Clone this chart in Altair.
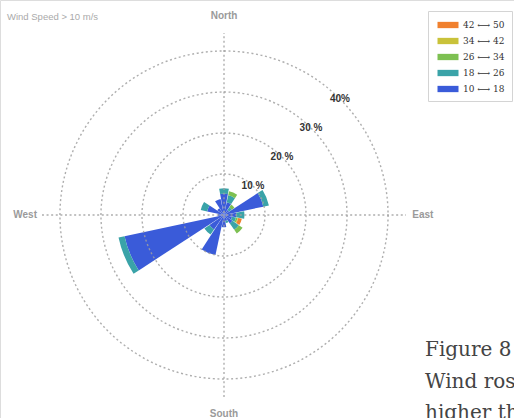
import math
import altair as alt
import pandas as pd

# ---- data ----
directions = ["N", "NNE", "NE", "ENE", "E", "ESE", "SE", "SSE",
              "S", "SSW", "SW", "WSW", "W", "WNW", "NW", "NNW"]
bins = ["10 ⟷ 18", "18 ⟷ 26", "26 ⟷ 34", "34 ⟷ 42", "42 ⟷ 50"]
s10_18 = [5.2, 3.2, 1.5, 9.8, 3.0, 2.0, 2.5, 1.5, 3.0, 10.0, 4.3, 24.8, 1.5, 4.2, 2.0, 4.0]
s18_26 = [1.3, 1.7, 0.8, 1.4, 2.0, 1.0, 1.9, 0.5, 0.0, 0.0, 1.5, 1.5, 0.0, 1.6, 0.0, 0.0]
s26_34 = [0.0, 1.0, 0.8, 0.0, 0.0, 0.4, 1.1, 0.0, 0.0, 0.0, 0.0, 0.0, 0.0, 0.0, 0.0, 0.0]
s34_42 = [0.0, 0.0, 0.0, 0.0, 0.0, 0.15, 0.0, 0.0, 0.0, 0.0, 0.0, 0.0, 0.0, 0.0, 0.0, 0.0]
s42_50 = [0.0, 0.0, 0.0, 0.0, 0.0, 0.9, 0.0, 0.0, 0.0, 0.0, 0.0, 0.0, 0.0, 0.0, 0.0, 0.0]
series = [s10_18, s18_26, s26_34, s34_42, s42_50]
colors = ["#3a5bd9", "#3aa3a8", "#7dc052", "#c9c23a", "#f0802e"]
ring_values = [10, 20, 30, 40]
ring_labels = ["10 %", "20 %", "30 %", "40%"]
compass_labels = ["North", "East", "South", "West"]
compass_deg = [0, 90, 180, 270]
caption_lines = ["Figure 8", "Wind rose for wind speeds", "higher than 10 m/s"]

# ---- layout constants ----
W, H = 514, 418
CX, CY = 224, 215
S = 4.1            # pixels per percent
SECTOR = 22.5
WEDGE = 21.0

rows = []
for i, d in enumerate(directions):
    cum = 0.0
    ang = i * SECTOR
    for b, vals in zip(bins, series):
        v = vals[i]
        if v > 0:
            rows.append({"dir": d, "bin": b, "r0": cum, "r1": cum + v,
                         "t0": math.radians(ang - WEDGE / 2),
                         "t1": math.radians(ang + WEDGE / 2),
                         "cx": 0, "cy": 0})
            cum += v
bars_df = pd.DataFrame(rows)

rings_df = pd.DataFrame({"r": ring_values, "label": ring_labels, "cx": 0, "cy": 0})
rings_df["lx"] = rings_df["r"] * math.cos(math.radians(45))
rings_df["ly"] = rings_df["r"] * math.sin(math.radians(45))

LR = 48.5
comp_df = pd.DataFrame({"label": compass_labels, "deg": compass_deg})
comp_df["x"] = [LR * math.sin(math.radians(a)) for a in compass_deg]
comp_df["y"] = [LR * math.cos(math.radians(a)) for a in compass_deg]

AX = 44.4
axes_df = pd.DataFrame({"x1": [-AX, 0], "x2": [AX, 0], "y1": [0, -AX], "y2": [0, AX]})

xs = alt.Scale(domain=[-CX / S, (W - CX) / S], range=[0, W], nice=False, zero=False)
ys = alt.Scale(domain=[-(H - CY) / S, CY / S], range=[H, 0], nice=False, zero=False)
rs = alt.Scale(type="linear", domain=[0, 40], range=[0, 40 * S], zero=True, nice=False)

legend_order = bins[::-1]
legend_colors = colors[::-1]

bars = alt.Chart(bars_df).mark_arc(stroke=None).encode(
    x=alt.X("cx:Q", scale=xs, axis=None),
    y=alt.Y("cy:Q", scale=ys, axis=None),
    theta=alt.Theta("t0:Q", scale=None, stack=False),
    theta2="t1:Q",
    radius=alt.Radius("r1:Q", scale=rs, stack=False),
    radius2="r0:Q",
    color=alt.Color("bin:N",
                    scale=alt.Scale(domain=legend_order, range=legend_colors),
                    sort=legend_order,
                    legend=alt.Legend(orient="none", legendX=428, legendY=11, title=None,
                                      fillColor="white", strokeColor="#d4d4d4",
                                      padding=7, rowPadding=4,
                                      symbolType="M-1.5,-0.45L1.5,-0.45L1.5,0.45L-1.5,0.45Z",
                                      symbolSize=196, symbolStrokeWidth=0,
                                      symbolOffset=6, labelOffset=8,
                                      labelFont="DejaVu Serif", labelFontSize=9,
                                      labelColor="#333")),
)

rings = alt.Chart(rings_df).mark_arc(filled=False, stroke="#a0a0a0", strokeWidth=1.4,
                                     strokeDash=[2, 2.6], opacity=0.85).encode(
    x=alt.X("cx:Q", scale=xs, axis=None),
    y=alt.Y("cy:Q", scale=ys, axis=None),
    theta=alt.value(0),
    theta2=alt.value(2 * math.pi),
    radius=alt.Radius("r:Q", scale=rs, stack=False),
)

axes_lines = alt.Chart(axes_df).mark_rule(color="#a0a0a0", strokeWidth=1.4,
                                          strokeDash=[2, 2.6], opacity=0.85).encode(
    x=alt.X("x1:Q", scale=xs, axis=None), x2="x2:Q",
    y=alt.Y("y1:Q", scale=ys, axis=None), y2="y2:Q",
)

ring_text = alt.Chart(rings_df).mark_text(font="Liberation Sans", fontSize=10,
                                          fontWeight="bold", color="#333").encode(
    x=alt.X("lx:Q", scale=xs, axis=None),
    y=alt.Y("ly:Q", scale=ys, axis=None),
    text="label:N",
)

comp_text = alt.Chart(comp_df).mark_text(font="Liberation Sans", fontSize=10,
                                         fontWeight="bold", color="#9a9a9a").encode(
    x=alt.X("x:Q", scale=xs, axis=None),
    y=alt.Y("y:Q", scale=ys, axis=None),
    text="label:N",
)

title_text = alt.Chart(pd.DataFrame({"t": ["Wind Speed > 10 m/s"]})).mark_text(
    font="Liberation Sans", fontSize=9.5, color="#aaaaaa", align="left", baseline="middle"
).encode(x=alt.value(7), y=alt.value(16.5), text="t:N")

cap_layers = []
for k, line in enumerate(caption_lines):
    cap_layers.append(
        alt.Chart(pd.DataFrame({"t": [line]})).mark_text(
            font="DejaVu Serif", fontSize=20, color="#444444", align="left",
            baseline="alphabetic"
        ).encode(x=alt.value(425), y=alt.value(356 + 31.5 * k), text="t:N")
    )

chart = alt.layer(bars, rings, axes_lines, ring_text, comp_text, title_text, *cap_layers).properties(
    width=W, height=H, padding=0, autosize=alt.AutoSizeParams(type="none")
).configure_view(stroke=None).configure(background="white")

chart.save("out.html", embed_options={"renderer": "svg", "actions": False})
